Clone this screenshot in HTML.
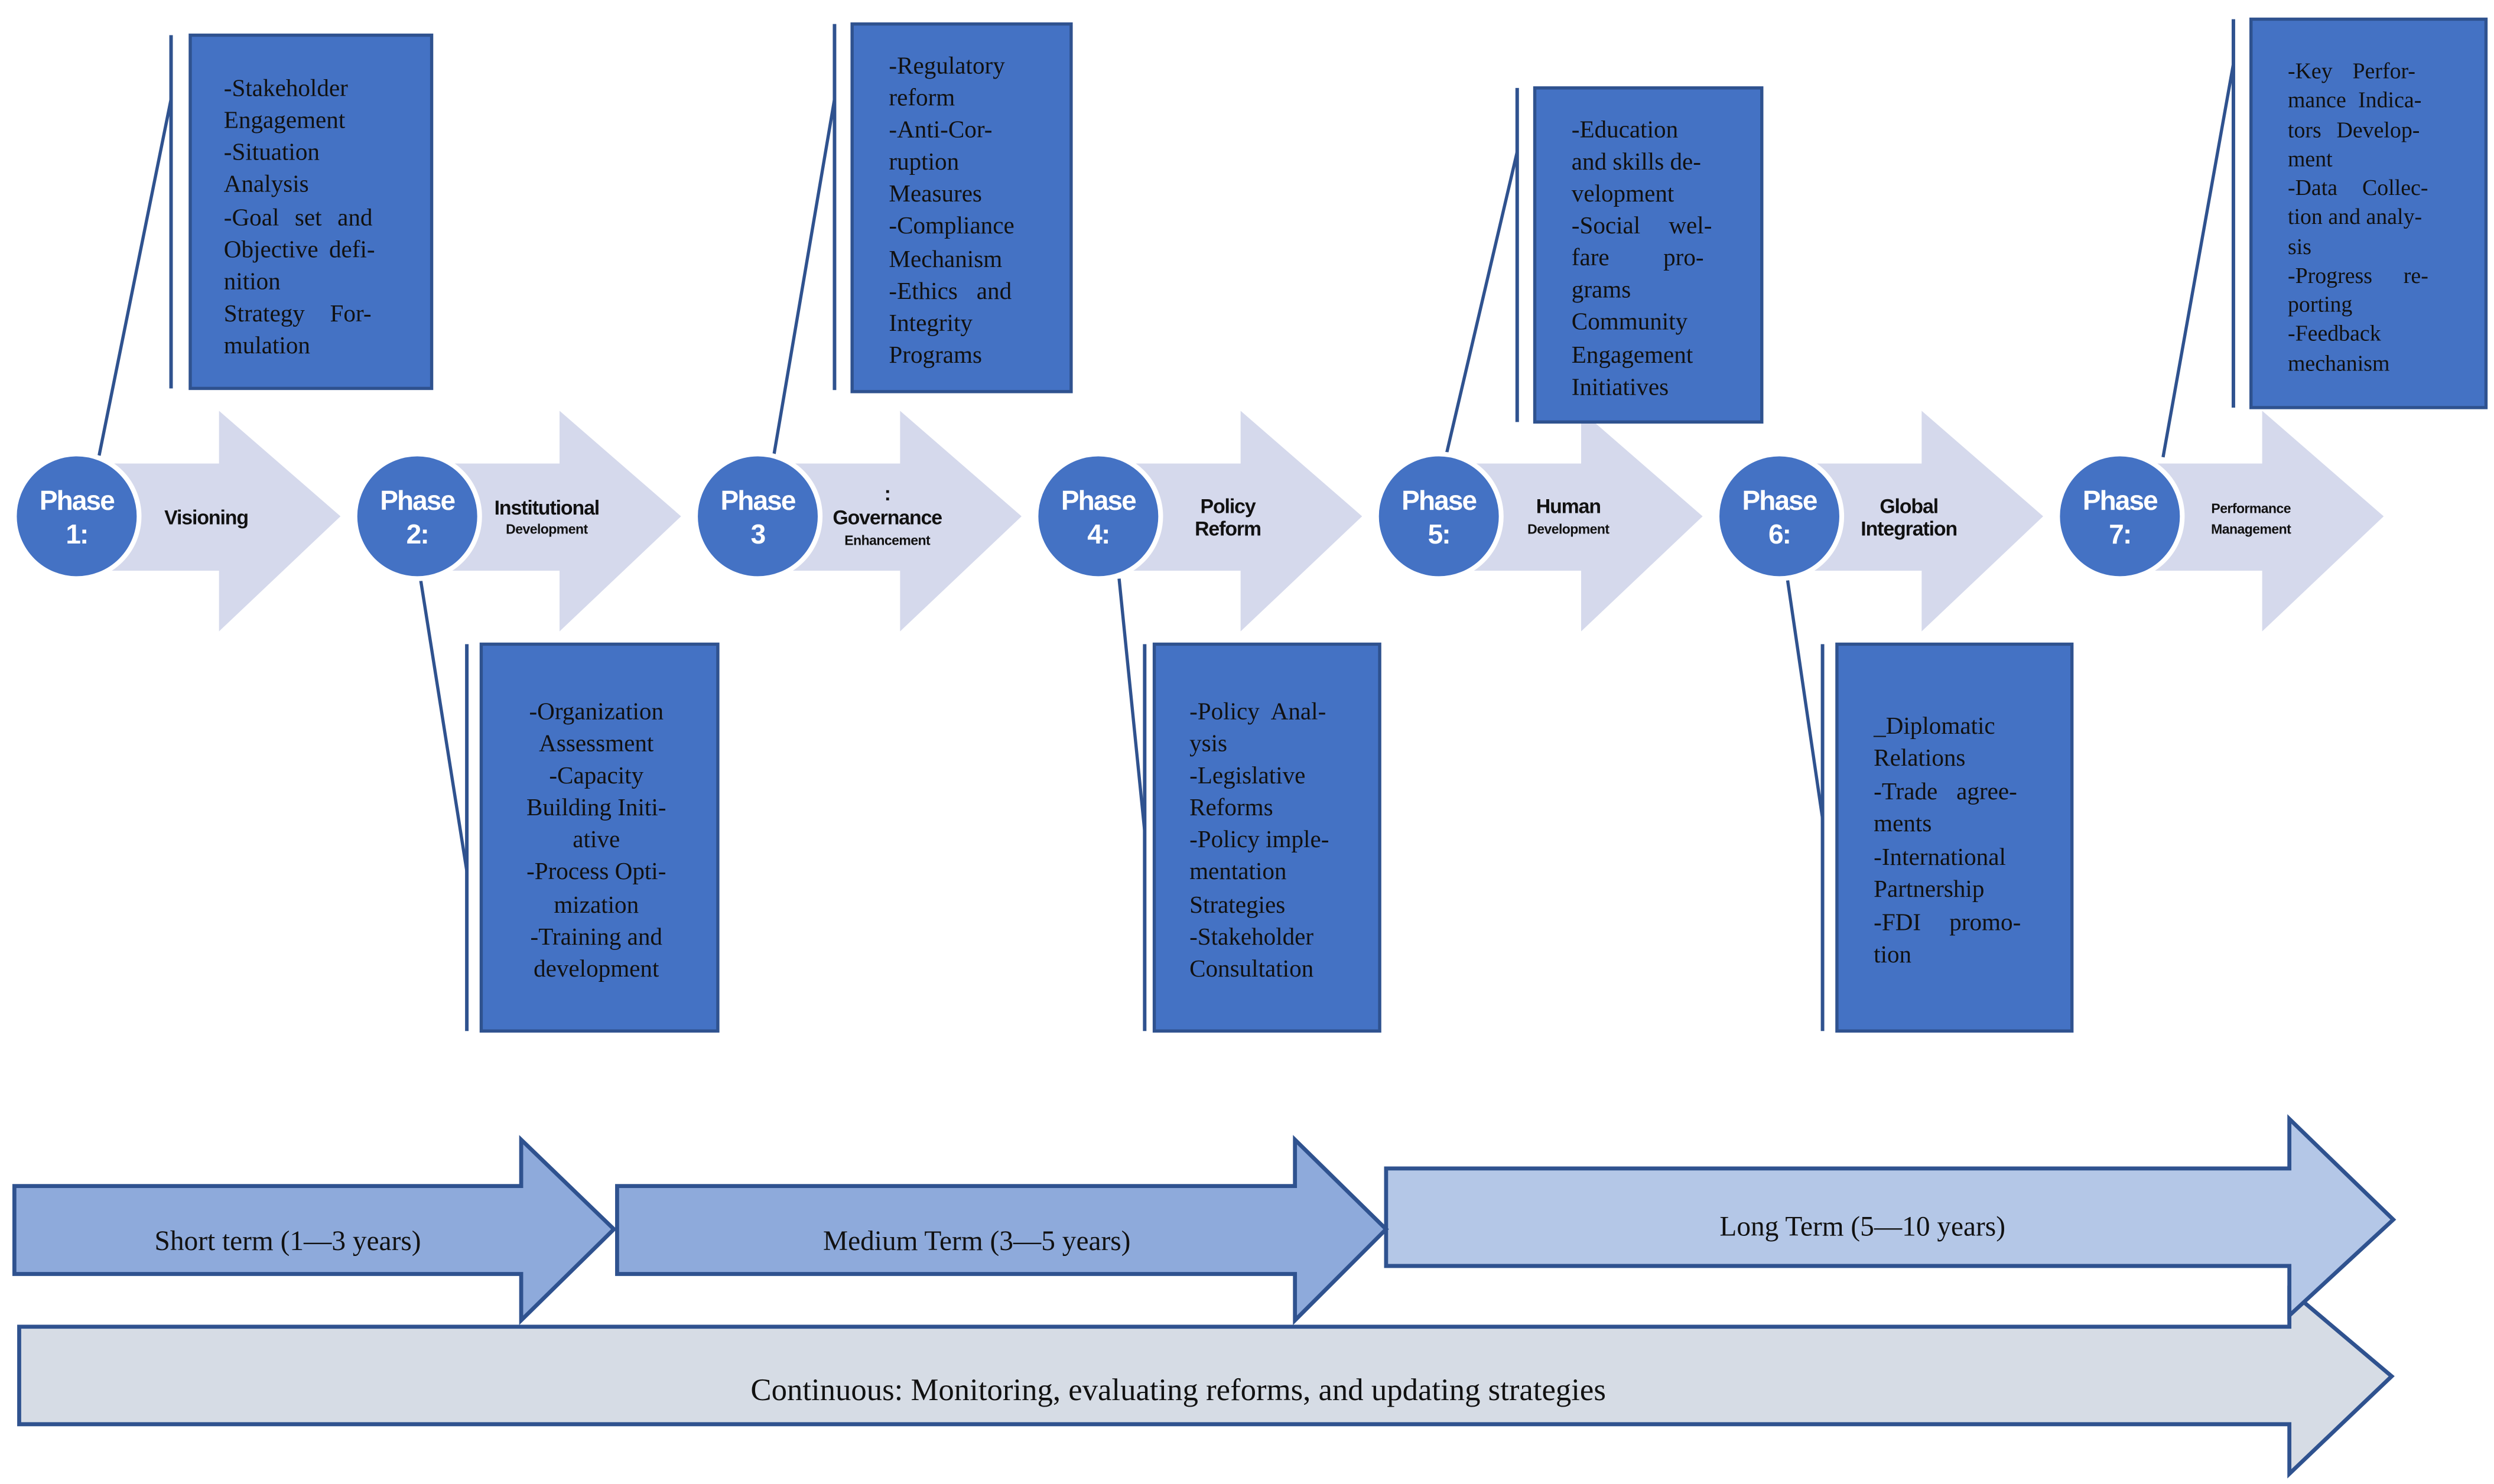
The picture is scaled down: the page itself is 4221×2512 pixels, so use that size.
<!DOCTYPE html>
<html><head><meta charset="utf-8"><style>
html,body{margin:0;padding:0;background:#fff;width:4221px;height:2512px;overflow:hidden}
svg{display:block}
.bx{fill:#4472c4;stroke:#2f528f;stroke-width:2}
.vl{stroke:#2f528f;stroke-width:2.2}
.cn{stroke:#2f528f;stroke-width:2}
.t{font-family:"Liberation Serif",serif;font-size:15.2px;fill:#111}
.ph{font-family:"Liberation Sans",sans-serif;font-weight:bold;font-size:17px;fill:#fff;text-anchor:middle;letter-spacing:-0.7px}
.lb{font-family:"Liberation Sans",sans-serif;font-weight:bold;font-size:12.5px;fill:#111;text-anchor:middle;letter-spacing:-0.4px}
.ls{font-family:"Liberation Sans",sans-serif;font-weight:bold;font-size:8.5px;fill:#111;text-anchor:middle;letter-spacing:-0.2px}
.bt{font-family:"Liberation Serif",serif;font-size:17.5px;fill:#111;text-anchor:middle}
.ch{fill:#d5d9ec}
.cc{fill:#4472c4;stroke:#fff;stroke-width:3}
</style></head><body>
<svg width="4221" height="2512" viewBox="0 0 1560 928.4" preserveAspectRatio="none" xmlns="http://www.w3.org/2000/svg">
<g>
<polygon class="ch" points="47,290 137,290 137,257 213,323 137,395 137,357 47,357"/>
<polygon class="ch" points="260,290 350,290 350,257 426,323 350,395 350,357 260,357"/>
<polygon class="ch" points="473,290 563,290 563,257 639,323 563,395 563,357 473,357"/>
<polygon class="ch" points="686,290 776,290 776,257 852,323 776,395 776,357 686,357"/>
<polygon class="ch" points="899,290 989,290 989,257 1065,323 989,395 989,357 899,357"/>
<polygon class="ch" points="1112,290 1202,290 1202,257 1278,323 1202,395 1202,357 1112,357"/>
<polygon class="ch" points="1325,290 1415,290 1415,257 1491,323 1415,395 1415,357 1325,357"/>
</g>
<line class="vl" x1="107" y1="22" x2="107" y2="243"/>
<line class="cn" x1="107" y1="62" x2="62" y2="285"/>
<line class="vl" x1="292" y1="403" x2="292" y2="645"/>
<line class="cn" x1="263" y1="362" x2="292" y2="545"/>
<line class="vl" x1="522" y1="15" x2="522" y2="244"/>
<line class="cn" x1="522" y1="62" x2="483" y2="291"/>
<line class="vl" x1="716" y1="403" x2="716" y2="645"/>
<line class="cn" x1="700" y1="362" x2="716" y2="520"/>
<line class="vl" x1="949" y1="55" x2="949" y2="264"/>
<line class="cn" x1="949" y1="95" x2="905" y2="283"/>
<line class="vl" x1="1140" y1="403" x2="1140" y2="645"/>
<line class="cn" x1="1118" y1="362" x2="1140" y2="512"/>
<line class="vl" x1="1397" y1="12" x2="1397" y2="255"/>
<line class="cn" x1="1397" y1="40" x2="1353" y2="286"/>
<circle class="cc" cx="48" cy="323" r="39"/>
<circle class="cc" cx="261" cy="323" r="39"/>
<circle class="cc" cx="474" cy="323" r="39"/>
<circle class="cc" cx="687" cy="323" r="39"/>
<circle class="cc" cx="900" cy="323" r="39"/>
<circle class="cc" cx="1113" cy="323" r="39"/>
<circle class="cc" cx="1326" cy="323" r="39"/>
<text class="ph" x="48" y="319">Phase</text><text class="ph" x="48" y="340">1:</text>
<text class="ph" x="261" y="319">Phase</text><text class="ph" x="261" y="340">2:</text>
<text class="ph" x="474" y="319">Phase</text><text class="ph" x="474" y="340">3</text>
<text class="ph" x="687" y="319">Phase</text><text class="ph" x="687" y="340">4:</text>
<text class="ph" x="900" y="319">Phase</text><text class="ph" x="900" y="340">5:</text>
<text class="ph" x="1113" y="319">Phase</text><text class="ph" x="1113" y="340">6:</text>
<text class="ph" x="1326" y="319">Phase</text><text class="ph" x="1326" y="340">7:</text>
<text class="lb" x="129" y="328">Visioning</text>
<text class="lb" x="342" y="322">Institutional</text><text class="ls" x="342" y="334">Development</text>
<text class="lb" x="555" y="313">:</text><text class="lb" x="555" y="328">Governance</text><text class="ls" x="555" y="341">Enhancement</text>
<text class="lb" x="768" y="321">Policy</text><text class="lb" x="768" y="335">Reform</text>
<text class="lb" x="981" y="321">Human</text><text class="ls" x="981" y="334">Development</text>
<text class="lb" x="1194" y="321">Global</text><text class="lb" x="1194" y="335">Integration</text>
<text class="ls" x="1408" y="321">Performance</text><text class="ls" x="1408" y="334">Management</text>
<rect class="bx" x="119" y="22" width="151" height="221"/>
<rect class="bx" x="301" y="403" width="148" height="242"/>
<rect class="bx" x="533" y="15" width="137" height="230"/>
<rect class="bx" x="722" y="403" width="141" height="242"/>
<rect class="bx" x="960" y="55" width="142" height="209"/>
<rect class="bx" x="1149" y="403" width="147" height="242"/>
<rect class="bx" x="1408" y="12" width="147" height="243"/>
<g class="t">
<text x="140" y="60">-Stakeholder</text>
<text x="140" y="80">Engagement</text>
<text x="140" y="100">-Situation</text>
<text x="140" y="120">Analysis</text>
<text x="140" y="141" word-spacing="6">-Goal set and</text>
<text x="140" y="161" word-spacing="3">Objective defi-</text>
<text x="140" y="181">nition</text>
<text x="140" y="201" word-spacing="12">Strategy For-</text>
<text x="140" y="221">mulation</text>
</g>
<g class="t" text-anchor="middle">
<text x="373" y="450">-Organization</text>
<text x="373" y="470">Assessment</text>
<text x="373" y="490">-Capacity</text>
<text x="373" y="510">Building Initi-</text>
<text x="373" y="530">ative</text>
<text x="373" y="550">-Process Opti-</text>
<text x="373" y="571">mization</text>
<text x="373" y="591">-Training and</text>
<text x="373" y="611">development</text>
</g>
<g class="t">
<text x="556" y="46">-Regulatory</text>
<text x="556" y="66">reform</text>
<text x="556" y="86">-Anti-Cor-</text>
<text x="556" y="106">ruption</text>
<text x="556" y="126">Measures</text>
<text x="556" y="146">-Compliance</text>
<text x="556" y="167">Mechanism</text>
<text x="556" y="187" word-spacing="8">-Ethics and</text>
<text x="556" y="207">Integrity</text>
<text x="556" y="227">Programs</text>
</g>
<g class="t">
<text x="744" y="450" word-spacing="4">-Policy Anal-</text>
<text x="744" y="470">ysis</text>
<text x="744" y="490">-Legislative</text>
<text x="744" y="510">Reforms</text>
<text x="744" y="530">-Policy imple-</text>
<text x="744" y="550">mentation</text>
<text x="744" y="571">Strategies</text>
<text x="744" y="591">-Stakeholder</text>
<text x="744" y="611">Consultation</text>
</g>
<g class="t">
<text x="983" y="86">-Education</text>
<text x="983" y="106">and skills de-</text>
<text x="983" y="126">velopment</text>
<text x="983" y="146" word-spacing="14">-Social wel-</text>
<text x="983" y="166" word-spacing="30">fare pro-</text>
<text x="983" y="186">grams</text>
<text x="983" y="206">Community</text>
<text x="983" y="227">Engagement</text>
<text x="983" y="247">Initiatives</text>
</g>
<g class="t">
<text x="1172" y="459">_Diplomatic</text>
<text x="1172" y="479">Relations</text>
<text x="1172" y="500" word-spacing="8">-Trade agree-</text>
<text x="1172" y="520">ments</text>
<text x="1172" y="541">-International</text>
<text x="1172" y="561">Partnership</text>
<text x="1172" y="582" word-spacing="14">-FDI promo-</text>
<text x="1172" y="602">tion</text>
</g>
<g class="t" style="font-size:14px">
<text x="1431" y="49" word-spacing="9">-Key Perfor-</text>
<text x="1431" y="67" word-spacing="4">mance Indica-</text>
<text x="1431" y="86" word-spacing="6">tors Develop-</text>
<text x="1431" y="104">ment</text>
<text x="1431" y="122" word-spacing="12">-Data Collec-</text>
<text x="1431" y="140">tion and analy-</text>
<text x="1431" y="159">sis</text>
<text x="1431" y="177" word-spacing="16">-Progress re-</text>
<text x="1431" y="195">porting</text>
<text x="1431" y="213">-Feedback</text>
<text x="1431" y="232">mechanism</text>
</g>
<polygon points="12,830 1432,830 1432,807 1496,861 1432,922 1432,891 12,891" fill="#d6dce5" stroke="#2f528f" stroke-width="2.5"/>
<polygon points="867,731 1432,731 1432,700 1497,763 1432,823 1432,792 867,792" fill="#b4c7e7" stroke="#2f528f" stroke-width="2.5"/>
<polygon points="9,742 326,742 326,713 384,769 326,826 326,797 9,797" fill="#8eaadb" stroke="#2f528f" stroke-width="2.5"/>
<polygon points="386,742 810,742 810,713 867,769 810,826 810,797 386,797" fill="#8eaadb" stroke="#2f528f" stroke-width="2.5"/>
<text class="bt" x="180" y="782">Short term (1—3 years)</text>
<text class="bt" x="611" y="782">Medium Term (3—5 years)</text>
<text class="bt" x="1165" y="773">Long Term (5—10 years)</text>
<text class="bt" x="737" y="876" style="font-size:19.5px">Continuous: Monitoring, evaluating reforms, and updating strategies</text>
</svg>
</body></html>
